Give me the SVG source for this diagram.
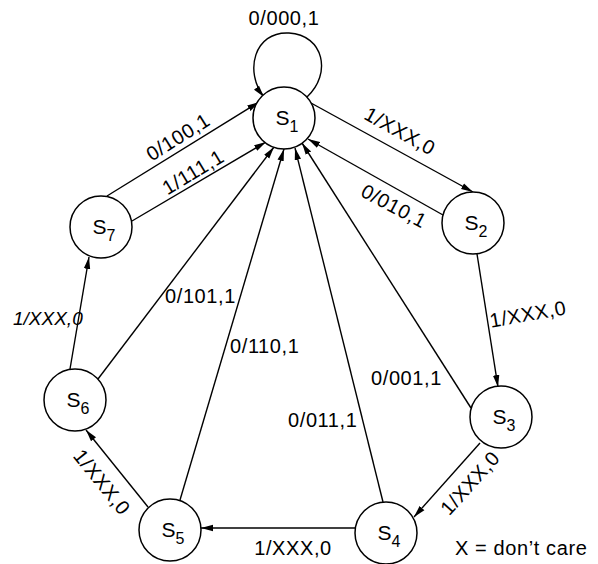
<svg xmlns="http://www.w3.org/2000/svg" width="598" height="564" viewBox="0 0 598 564">
<defs>
<marker id="ah" viewBox="0 0 12 8" refX="12" refY="4" markerWidth="12" markerHeight="8" markerUnits="userSpaceOnUse" orient="auto">
<path d="M0,0.8 L12,4 L0,7.2 Z" fill="#000"/>
</marker>
<style>
.n{fill:#fff;stroke:#000;stroke-width:1.5}
.e{fill:none;stroke:#000;stroke-width:1.4;marker-end:url(#ah)}
text{font-family:"Liberation Sans",Arial,Helvetica,sans-serif;fill:#000}
.l{font-size:20px;letter-spacing:0.6px}
.s{font-size:21px}
.sub{font-size:16px}
.it{font-style:italic;font-size:19px}
</style>
</defs>
<rect width="598" height="564" fill="#fff"/>
<g id="connectors">
<path class="e" d="M307,97 C332,74 324,35 289,33 C254,31 244,72 264,97"/>
<path class="e" d="M311,103 L473,192"/>
<path class="e" d="M443,215 L308,139"/>
<path class="e" d="M477,254 L498,387"/>
<path class="e" d="M471,408 L302,143"/>
<path class="e" d="M480,443 L414,517"/>
<path class="e" d="M383,502 L295,148"/>
<path class="e" d="M355,528 L201,528"/>
<path class="e" d="M180,500 L284,149"/>
<path class="e" d="M148,507 L86,430"/>
<path class="e" d="M98,379 L274,147"/>
<path class="e" d="M70,369 L89,257"/>
<path class="e" d="M107,196 L259,102"/>
<path class="e" d="M132,221 L266,142"/>
</g>
<g id="labels">
<text class="l" x="284" y="25" text-anchor="middle">0/000,1</text>
<text class="l" transform="translate(400,131) rotate(29)" y="7" text-anchor="middle">1/XXX,0</text>
<text class="l" transform="translate(394,206) rotate(28)" y="7" text-anchor="middle">0/010,1</text>
<text class="l" transform="translate(178,137) rotate(-32)" y="7" text-anchor="middle">0/100,1</text>
<text class="l" transform="translate(193,172) rotate(-31)" y="7" text-anchor="middle">1/111,1</text>
<text class="it" x="13" y="325">1/XXX,0</text>
<text class="l" x="165" y="303">0/101,1</text>
<text class="l" x="230" y="353">0/110,1</text>
<text class="l" x="371" y="385">0/001,1</text>
<text class="l" x="288" y="427">0/011,1</text>
<text class="l" transform="translate(528,314) rotate(-10)" y="7" text-anchor="middle">1/XXX,0</text>
<text class="l" transform="translate(470,483) rotate(-48)" y="7" text-anchor="middle">1/XXX,0</text>
<text class="l" x="293" y="555" text-anchor="middle">1/XXX,0</text>
<text class="l" transform="translate(102,482) rotate(51)" y="7" text-anchor="middle">1/XXX,0</text>
<text class="l" x="455" y="555">X = don’t care</text>
</g>
<g id="S1"><circle class="n" cx="284" cy="118" r="31"/><text class="s" x="287" y="125" text-anchor="middle">S<tspan class="sub" dy="7">1</tspan></text></g>
<g id="S2"><circle class="n" cx="473" cy="223" r="31"/><text class="s" x="476" y="230" text-anchor="middle">S<tspan class="sub" dy="7">2</tspan></text></g>
<g id="S3"><circle class="n" cx="501" cy="417" r="31"/><text class="s" x="504" y="424" text-anchor="middle">S<tspan class="sub" dy="7">3</tspan></text></g>
<g id="S4"><circle class="n" cx="386" cy="533" r="31"/><text class="s" x="389" y="540" text-anchor="middle">S<tspan class="sub" dy="7">4</tspan></text></g>
<g id="S5"><circle class="n" cx="170" cy="530" r="31"/><text class="s" x="173" y="537" text-anchor="middle">S<tspan class="sub" dy="7">5</tspan></text></g>
<g id="S6"><circle class="n" cx="75" cy="400" r="31"/><text class="s" x="78" y="407" text-anchor="middle">S<tspan class="sub" dy="7">6</tspan></text></g>
<g id="S7"><circle class="n" cx="101" cy="227" r="31"/><text class="s" x="104" y="234" text-anchor="middle">S<tspan class="sub" dy="7">7</tspan></text></g>
</svg>
